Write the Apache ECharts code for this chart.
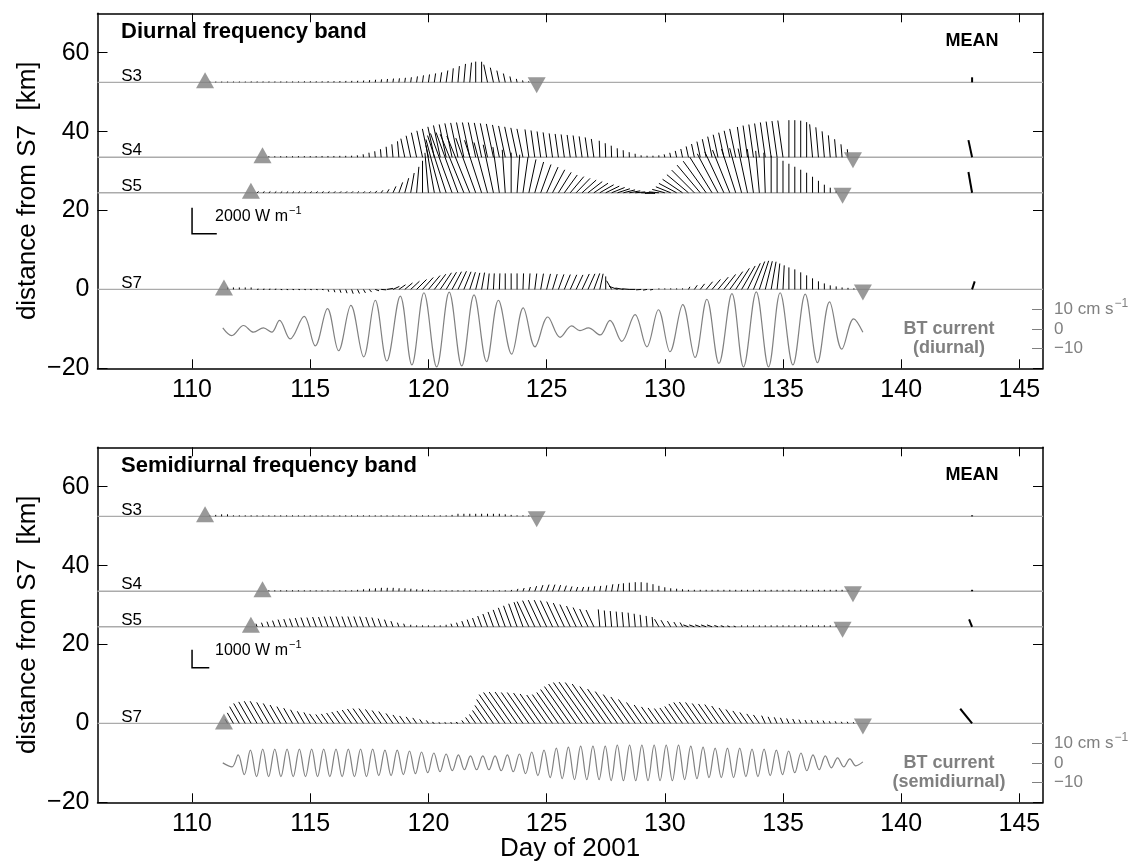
<!DOCTYPE html>
<html>
<head>
<meta charset="utf-8">
<title>Energy flux sticks</title>
<script src="https://cdn.jsdelivr.net/npm/echarts@6.0.0/dist/echarts.min.js"></script>
<style>
  html, body { margin: 0; padding: 0; background: #fff; }
  #main { width: 1135px; height: 865px; }
</style>
</head>
<body>
<div id="main"></div>
<script>
// run-length helper for long constant stretches
function runs(list) {
  var out = [];
  list.forEach(function (r) { for (var i = 0; i < r[1]; i++) out.push(r[0]); });
  return out;
}

var FONT = '"Liberation Sans", Arial, Helvetica, sans-serif';

var xTicks = [110, 115, 120, 125, 130, 135, 140, 145];
var yTicks = [-20, 0, 20, 40, 60];
var btTicks = [-10, 0, 10];

var stationNames = ['S3', 'S4', 'S5', 'S7'];
var stationKm = [52.5, 33.5, 24.5, 0];
var triStart = [110.55, 112.98, 112.49, 111.35];
var triEnd = [124.58, 137.96, 137.52, 138.38];
var stickStart = [110.75, 113.25, 112.75, 111.5];
var stickStep = 0.25;
var meanDay = 143.0;

// ---- diurnal band: flux magnitude (W/m) and direction (deg, clockwise from up)
var dS3Amp = [60,60,60,60,60,60,60, 70,70,70,70,70,70,70,70,70, 80,80,80,80, 90,90, 100,110,115,
  120,140,170,200,230,260,290,310,350,390, 460,540,610,690,770,920,1080,1250,1420,1520,
  1590,1580,1390,1150,920,690,460,270,150,80];
var dS3Dir = runs([[8,41],[5,4],[0,2],[-12,8]]);

var dS4Amp = [80,80,80,80,80,90,90,90,90,100,100,100,110,110,120,
  150,230,350,460,620,810,1000,1230,
  1460,1690,1930,2080,2230,2390,2500,2580,2660,2700,2730,2730,2730,2700,2660,2620,2540,2460,2390,2310,2230,
  2160,2080,2000,1930,1850,1810,1770,1730,1690,1620,1540,1420,
  1270,1080,890,690,540,390,270,150,120,120,150,
  230,350,500,650,850,1040,1230,1420,1620,1770,1930,2080,2230,
  2350,2460,2540,2620,2700,2770,2810,2850,
  2850,2850,2810,2700,
  2540,2310,2000,1690,1390,1000,620];
var dS4Dir = runs([[0,15],[-5,8],[-12,21],[-8,12],[-2,11],[-12,13],[-8,8],[0,4],[-5,7]]);

var dS5Amp = runs([[150,20]]).concat([
  190,230,310,540,850,1160,1540,2000,2460,
  3080,3700,4240,4620,4850,4930,4850,4700,4470,4240,4000,3770,3540,3310,3080,
  2930,2770,2620,2460,2310,2160,2000,1850,1690,1620,1540,1460,1390,1310,1230,1160,1080,1000,920,850,770,690,620,
  620,770,1000,1230,1540,1850,2160,2460,2770,3000,3230,3390,3470,3540,3540,3540,3470,3390,3230,3080,
  2850,2700,2460,2230,2000,1770,1540,1230,920,620,390,150]);
var dS5Dir = runs([[50,13],[45,7]]).concat([
  40,35,30,25,20,15,10,5,0,
  -5,-10,-15,-18,-20,-20,-22,-22,-20,-18,-15,-12,-8,-4,0,
  4,8,12,16,20,24,28,32,36,40,44,48,52,56,60,64,68,72,76,80,85,90,95,
  -95,-85,-75,-68,-62,-56,-50,-45,-40,-36,-32,-28,-25,-22,-18,-15,-12,-8,-5,-2]).concat(runs([[0,12]]));

var dS7Amp = [150,150,150,150,150,120,120,120,120,120,120,120,120,120,120,120,120,
  190,230,270,310,350,350,310,270,
  310,390,460,540,620,770,920,1080,1230,1390,1460,1540,1540,1540,1540,1460,1390,1310,1310,1230,1230,1230,
  1230,1230,1230,
  1230,1230,1230,1230,1230,1230,1230,1230,1230,1230,
  1310,1310,1310,1230,1000,770,690,620,540,460,390,310,230,
  80,80,80,80,80,
  230,390,540,770,1000,1230,1460,1690,1930,2080,2230,2310,2310,2230,2160,2000,1850,1690,1540,1310,1080,850,620,460,310,230,150,120,80];
var dS7Dir = runs([[0,5],[80,4],[100,8]]).concat([
  160,160,160,160,160,155,150,140,
  110,95,80,65,55,50,47,45,42,40,37,34,31,28,25,22,18,14,10,6,3,2,
  0,0,0,
  2,4,7,10,14,17,20,22,24,25,
  25,24,20,12,0,-30,-70,-80,-85,-90,-95,-100,-100,
  0,0,0,0,0,
  30,35,38,40,40,40,38,36,33,30,26,22,18,14,10,6,3]).concat(runs([[0,12]]));

var dMeanAmp = [385, 1350, 1620, 650];
var dMeanDir = [0, -12, -10, 18];

// ---- semidiurnal band
var sS3Amp = [55,80,110,110,55].concat(runs([[55,36]]), [80], runs([[140,8]]), [110,80,55,55,55]);
var sS3Dir = runs([[0,55]]);

var sS4Amp = runs([[55,15]]).concat([80,110,140,165,190,190,190,165,165,140,110,110,80],
  runs([[55,13]]),
  [80,140,190,250,300,360,390,390,360,330,280,250,250,250,280,300,330,390,410,440,470,500,500,470,390,300,220,165,140,110],
  runs([[80,28]]));
var sS4Dir = runs([[0,15],[5,13],[0,13],[20,13],[10,6],[0,39]]);

var sS5Amp = [180,240,300,360,420,450,480,510,540,540,570,570,600,
  600,600,600,600,600,600,
  570,540,480,420,330,240,180,
  110,80,80,80,80,80,110,
  180,240,330,420,510,630,750,870,990,1110,1230,1350,1440,
  1530,1590,1620,1620,1590,1530,1440,1350,1260,1170,1080,1020,
  960,900,870,840,810,780,720,660,600,540,
  480,420,360,300,270,
  300,300,300,300,300,210,180,150,120].concat(runs([[80,17]]));
var sS5Dir = runs([[-20,26],[0,7],[-20,13],[-25,12],[-5,10],[-30,5],[-70,9],[0,17]]);

var sS7Amp = [270,670,1070,1270,1370,1410,1410,1340,1270,1170,1070,970,870,770,700,
  640,600,640,700,770,840,900,970,1000,1000,940,870,800,670,570,500,440,370,270,200,
  130,100,100,100,130,
  200,400,600,870,1210,1610,1940,2080,2110,2110,2080,2080,2040,1980,1910,1940,2080,2280,2480,2650,
  2750,2780,2750,2650,2480,2310,2140,1940,1780,1610,1410,1240,1110,1040,1000,1040,1140,1310,1410,1440,
  1410,1340,1310,1270,1170,1040,940,840,740,640,570,
  470,400,370,340,300,270,230,200,200,170,170,130,130,100,100,70];
var sS7Dir = runs([[-30,15],[-35,20],[-60,5],[-35,51],[-25,16]]);

var sMeanAmp = [55, 80, 440, 1040];
var sMeanDir = [0, 0, -22, -39];

// ---- barotropic current extrema (day, cm/s)
var dBtDay = [111.30,111.68,112.18,112.60,113.02,113.37,113.70,114.15,114.74,115.21,115.73,116.20,116.72,
  117.26,117.75,118.24,118.81,119.30,119.81,120.35,120.88,121.41,121.93,122.46,122.96,123.52,124.01,124.51,
  125.05,125.57,126.06,126.41,126.77,127.26,127.68,128.18,128.74,129.24,129.73,130.22,130.76,131.28,131.78,
  132.29,132.84,133.33,133.87,134.39,134.88,135.42,135.94,136.46,136.97,137.49,137.99,138.38];
var dBtVal = [0.5,-3.4,1.7,-1.7,0.5,-1.7,4.3,-5.1,6.3,-8.6,10.3,-11.1,11.9,
  -14.2,14.5,-16.3,16.6,-18.3,18.3,-19.3,18.6,-18.8,17.2,-16.6,14.5,-12.8,10.6,-9.1,
  6.0,-4.3,1.5,-0.9,0.5,-3.1,4.3,-6.3,7.2,-9.1,9.7,-11.6,12.3,-14.5,15.0,
  -17.5,17.9,-19.3,18.8,-19.3,18.3,-18.3,17.6,-17.1,13.7,-10.3,5.1,-1.7];

var sBtDay = [111.30,
  111.69,111.95,112.21,112.47,112.73,112.99,113.24,113.50,113.76,114.02,114.28,114.54,
  114.80,115.06,115.31,115.57,115.83,116.09,116.35,116.61,116.87,117.13,117.38,117.64,
  117.90,118.16,118.42,118.68,118.94,119.20,119.45,119.71,119.97,120.23,120.49,120.75,
  121.01,121.27,121.52,121.78,122.04,122.30,122.56,122.82,123.08,123.34,123.59,123.85,
  124.11,124.37,124.63,124.89,125.15,125.41,125.66,125.92,126.18,126.44,126.70,126.96,
  127.22,127.48,127.73,127.99,128.25,128.51,128.77,129.03,129.29,129.55,129.80,130.06,
  130.32,130.58,130.84,131.10,131.36,131.62,131.87,132.13,132.39,132.65,132.91,133.17,
  133.43,133.69,133.94,134.20,134.46,134.72,134.98,135.24,135.50,135.76,136.01,136.27,
  136.53,136.79,137.05,137.31,137.57,137.83,138.08,138.38];
var sBtVal = [0,
  -2,4,-6,6.5,-7,7,-7,7,-7,7,-7,7,
  -7,7,-7,7,-7,7,-7,7,-7,7,-7,7,
  -6.5,6.5,-6.5,6.5,-6,6,-5.5,5.5,-5,5,-4.5,4.5,
  -4,4,-3.5,3.5,-3.5,3.5,-3.5,3.5,-4,4,-4.5,4.5,
  -5.5,5.5,-6.5,6.5,-7.5,7.5,-8,8,-8.5,8.5,-8.5,8.5,
  -8.5,8.5,-9,9,-9,9,-9,9,-9,9,-9,9,
  -9,9,-8.5,8.5,-8,8,-7.5,7.5,-7.5,7.5,-7.5,7.5,
  -7,7,-7,7,-6.5,6.5,-6,6,-5,5,-4,4,
  -3.5,3.5,-2.5,2.5,-2,2,-1.5,0.5];

var panels = [
  { top: 13.3, amps: [dS3Amp, dS4Amp, dS5Amp, dS7Amp], dirs: [dS3Dir, dS4Dir, dS5Dir, dS7Dir],
    meanAmp: dMeanAmp, meanDir: dMeanDir, kmPerW: 6.6 / 2000, bar: 2000,
    btDay: dBtDay, btVal: dBtVal, title: 'Diurnal frequency band', bt: 'BT current\n(diurnal)' },
  { top: 447.3, amps: [sS3Amp, sS4Amp, sS5Amp, sS7Amp], dirs: [sS3Dir, sS4Dir, sS5Dir, sS7Dir],
    meanAmp: sMeanAmp, meanDir: sMeanDir, kmPerW: 4.6 / 1000, bar: 1000,
    btDay: sBtDay, btVal: sBtVal, title: 'Semidiurnal frequency band', bt: 'BT current\n(semidiurnal)' }
];

var GRID_LEFT = 97.5, GRID_W = 945.5, GRID_H = 355;
var minus = function (v) { return v < 0 ? '\u2212' + (-v) : String(v); };

var grids = [], xAxes = [], yAxes = [], series = [], graphics = [];

panels.forEach(function (P, g) {
  grids.push({ left: GRID_LEFT, top: P.top, width: GRID_W, height: GRID_H, containLabel: false, outerBoundsMode: 'none' });

  var tickStyle = { color: '#000', width: 1 };
  var lineStyle = { color: '#000', width: 1.5 };
  xAxes.push({
    gridIndex: g, type: 'value', min: 106, max: 146, position: 'bottom',
    axisLine: { show: true, onZero: false, lineStyle: lineStyle },
    axisTick: { show: true, inside: true, length: 9, customValues: xTicks, lineStyle: tickStyle },
    axisLabel: { show: true, customValues: xTicks, fontSize: 25, color: '#000', fontFamily: FONT, margin: 9 },
    splitLine: { show: false }
  }, {
    gridIndex: g, type: 'value', min: 106, max: 146, position: 'top',
    axisLine: { show: true, onZero: false, lineStyle: lineStyle },
    axisTick: { show: true, inside: true, length: 9, customValues: xTicks, lineStyle: tickStyle },
    axisLabel: { show: false, customValues: xTicks },
    splitLine: { show: false }
  });
  yAxes.push({
    gridIndex: g, type: 'value', min: -20, max: 70, position: 'left',
    axisLine: { show: true, onZero: false, lineStyle: lineStyle },
    axisTick: { show: true, inside: true, length: 10, customValues: yTicks, lineStyle: tickStyle },
    axisLabel: { show: true, customValues: yTicks, fontSize: 25, color: '#000', fontFamily: FONT, margin: 8, formatter: minus },
    splitLine: { show: false }
  }, {
    gridIndex: g, type: 'value', min: -20, max: 70, position: 'right',
    axisLine: { show: true, onZero: false, lineStyle: lineStyle },
    axisTick: { show: true, inside: true, length: 10, customValues: yTicks, lineStyle: tickStyle },
    axisLabel: { show: false, customValues: yTicks },
    splitLine: { show: false }
  }, {
    gridIndex: g, type: 'value', min: -20, max: 160, position: 'right',
    axisLine: { show: false },
    axisTick: { show: true, inside: true, length: 11, customValues: btTicks, lineStyle: { color: '#808080', width: 1 } },
    axisLabel: {
      show: true, customValues: btTicks, fontSize: 17, color: '#808080', fontFamily: FONT, margin: 11,
      formatter: function (v) { return v === 10 ? '{n|10 cm s}{s|\u22121}' : minus(v); },
      rich: {
        n: { fontSize: 17, color: '#808080', fontFamily: FONT, lineHeight: 22 },
        s: { fontSize: 12, color: '#808080', fontFamily: FONT, verticalAlign: 'top', padding: [0, 0, 0, 1] }
      }
    },
    splitLine: { show: false }
  });

  var xi = 2 * g, yi = 3 * g, bi = 3 * g + 2;

  // station baselines
  stationKm.forEach(function (km) {
    series.push({ type: 'line', xAxisIndex: xi, yAxisIndex: yi, data: [[106, km], [146, km]], symbol: 'none',
      silent: true, z: 1, lineStyle: { color: '#ababab', width: 1.4 } });
  });

  // sticks
  var sticks = [];
  stationKm.forEach(function (km, s) {
    P.amps[s].forEach(function (a, k) { sticks.push([stickStart[s] + k * stickStep, km, a, P.dirs[s][k], 1]); });
    sticks.push([meanDay, km, P.meanAmp[s], P.meanDir[s], 2]);
  });
  var kmPerW = P.kmPerW;
  series.push({
    type: 'custom', xAxisIndex: xi, yAxisIndex: yi, z: 3, silent: true, data: sticks,
    encode: { x: 0, y: 1 },
    renderItem: function (params, api) {
      var p = api.coord([api.value(0), api.value(1)]);
      var L = api.value(2) * api.size([0, kmPerW * 1000])[1] / 1000;
      var a = api.value(3) * Math.PI / 180;
      return { type: 'line', shape: { x1: p[0], y1: p[1], x2: p[0] + L * Math.sin(a), y2: p[1] - L * Math.cos(a) },
        style: { stroke: '#000', lineWidth: api.value(4) } };
    }
  });

  // scale bar
  var bar = P.bar;
  series.push({
    type: 'custom', xAxisIndex: xi, yAxisIndex: yi, z: 3, silent: true, data: [[110, 14.1]],
    renderItem: function (params, api) {
      var p = api.coord([api.value(0), api.value(1)]);
      var L = bar * api.size([0, kmPerW * 1000])[1] / 1000;
      return { type: 'group', children: [
        { type: 'polyline', shape: { points: [[p[0], p[1] - L], [p[0], p[1]], [p[0] + L * 0.95, p[1]]] },
          style: { stroke: '#000', lineWidth: 1.5, fill: null } },
        { type: 'text', x: p[0] + 23, y: p[1] - 17,
          style: { text: '{a|' + bar + ' W m}{b|\u22121}', verticalAlign: 'middle', textVerticalAlign: 'middle',
            rich: { a: { fontSize: 16, fontFamily: FONT, fill: '#000', color: '#000', lineHeight: 22 },
                    b: { fontSize: 11, fontFamily: FONT, fill: '#000', color: '#000', verticalAlign: 'top', padding: [0, 0, 0, 1] } } } }
      ] };
    }
  });

  // station labels
  series.push({
    type: 'custom', xAxisIndex: xi, yAxisIndex: yi, z: 3, silent: true,
    data: stationKm.map(function (km, s) { return [107.0, km, s]; }),
    renderItem: function (params, api) {
      var p = api.coord([api.value(0), api.value(1)]);
      return { type: 'text', x: p[0], y: p[1] + 2,
        style: { text: stationNames[api.value(2)], fontSize: 17, fontFamily: FONT, fill: '#000',
          align: 'left', textAlign: 'left', verticalAlign: 'bottom', textVerticalAlign: 'bottom' } };
    }
  });

  // start / end triangles
  series.push({ type: 'scatter', xAxisIndex: xi, yAxisIndex: yi, z: 4, silent: true,
    data: stationKm.map(function (km, s) { return [triStart[s], km]; }),
    symbol: 'triangle', symbolSize: [18, 16], symbolOffset: [0, -2], itemStyle: { color: '#808080' } });
  series.push({ type: 'scatter', xAxisIndex: xi, yAxisIndex: yi, z: 4, silent: true,
    data: stationKm.map(function (km, s) { return [triEnd[s], km]; }),
    symbol: 'triangle', symbolRotate: 180, symbolSize: [18, 16], symbolOffset: [0, 3], itemStyle: { color: '#808080' } });

  // barotropic current
  series.push({ type: 'line', xAxisIndex: xi, yAxisIndex: bi, z: 2, silent: true, smooth: 0.36,
    data: P.btDay.map(function (d, k) { return [d, P.btVal[k]]; }),
    showSymbol: false, symbol: 'none', lineStyle: { color: '#808080', width: 1.2 } });

  // texts
  graphics.push(
    { type: 'text', x: 121, y: P.top + 8, style: { text: P.title, fontSize: 22, fontWeight: 'bold', fontFamily: FONT, fill: '#000' } },
    { type: 'text', x: 972, y: P.top + 19, style: { text: 'MEAN', fontSize: 18, fontWeight: 'bold', fontFamily: FONT, fill: '#000', align: 'center', textAlign: 'center' } },
    { type: 'text', x: 949, y: P.top + 306, style: { text: P.bt, fontSize: 18, fontWeight: 'bold', fontFamily: FONT, fill: '#808080', align: 'center', textAlign: 'center', lineHeight: 19 } },
    { type: 'text', x: 28, y: P.top + 177.5, rotation: Math.PI / 2,
      style: { text: 'distance from S7  [km]', fontSize: 26, fontFamily: FONT, fill: '#000', align: 'center', textAlign: 'center', verticalAlign: 'middle', textVerticalAlign: 'middle' } }
  );
});

graphics.push({ type: 'text', x: 570, y: 836, style: { text: 'Day of 2001', fontSize: 26, fontFamily: FONT, fill: '#000', align: 'center', textAlign: 'center' } });

var chart = echarts.init(document.getElementById('main'));
chart.setOption({
  animation: false,
  backgroundColor: '#fff',
  textStyle: { fontFamily: FONT },
  grid: grids,
  xAxis: xAxes,
  yAxis: yAxes,
  series: series,
  graphic: graphics
});
</script>
</body>
</html>
